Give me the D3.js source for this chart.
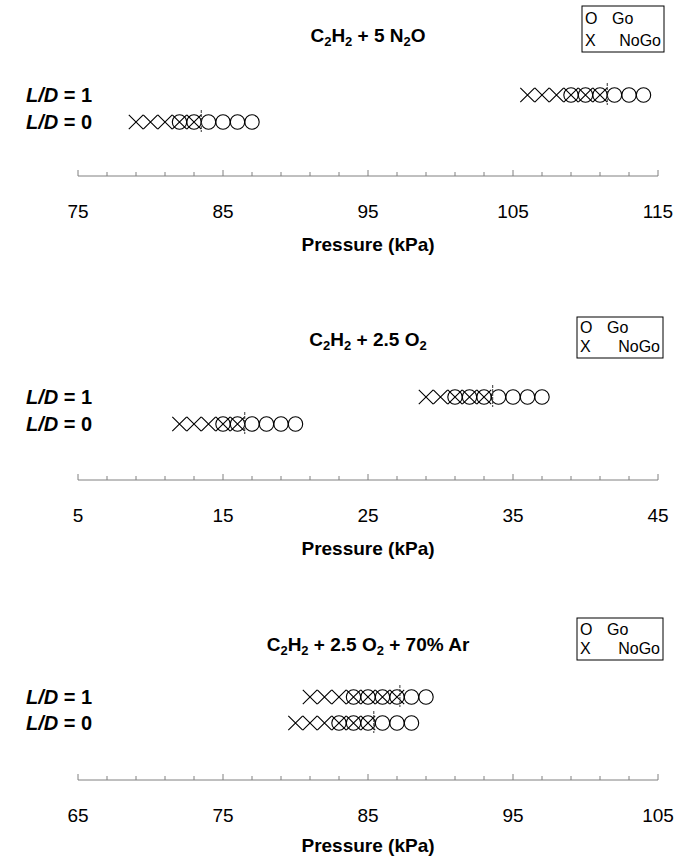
<!DOCTYPE html>
<html>
<head>
<meta charset="utf-8">
<script src="https://cdn.jsdelivr.net/npm/d3@7"></script>
<style>
  body { margin: 0; background: #fff; }
  text { font-family: "Liberation Sans", Arial, sans-serif; }
</style>
</head>
<body>
<div id="chart"></div>
<script>
// panel 1 : C2H2 + 5 N2O
var p1Domain = [75, 115];
var p1Ticks = [75, 85, 95, 105, 115];
var p1NoGo1 = [106, 107, 108, 109, 110, 111];
var p1Go1 = [109, 110, 111, 112, 113, 114];
var p1Thr1 = 111.5;
var p1NoGo0 = [79, 80, 81, 82, 83];
var p1Go0 = [82, 83, 84, 85, 86, 87];
var p1Thr0 = 83.5;

// panel 2 : C2H2 + 2.5 O2
var p2Domain = [5, 45];
var p2Ticks = [5, 15, 25, 35, 45];
var p2NoGo1 = [29, 30, 31, 32, 33];
var p2Go1 = [31, 32, 33, 34, 35, 36, 37];
var p2Thr1 = 33.6;
var p2NoGo0 = [12, 13, 14, 15, 16];
var p2Go0 = [15, 16, 17, 18, 19, 20];
var p2Thr0 = 16.5;

// panel 3 : C2H2 + 2.5 O2 + 70% Ar
var p3Domain = [65, 105];
var p3Ticks = [65, 75, 85, 95, 105];
var p3NoGo1 = [81, 82, 83, 84, 85, 86, 87];
var p3Go1 = [84, 85, 86, 87, 88, 89];
var p3Thr1 = 87.2;
var p3NoGo0 = [80, 81, 82, 83, 84, 85];
var p3Go0 = [83, 84, 85, 86, 87, 88];
var p3Thr0 = 85.4;

var width = 682, height = 858;

var panels = [
    { title: [["C", 0], ["2", 1], ["H", 0], ["2", 1], [" + 5 N", 0], ["2", 1], ["O", 0]],
      domain: p1Domain, ticks: p1Ticks,
      rows: [{ nogo: p1NoGo1, go: p1Go1, thr: p1Thr1 }, { nogo: p1NoGo0, go: p1Go0, thr: p1Thr0 }],
      legend: { x: 582, y: 6, w: 82, h: 46 },
      y: { title: 36, row1: 95, row0: 122, axis: 176, labels: 211, xtitle: 245 } },
    { title: [["C", 0], ["2", 1], ["H", 0], ["2", 1], [" + 2.5 O", 0], ["2", 1]],
      domain: p2Domain, ticks: p2Ticks,
      rows: [{ nogo: p2NoGo1, go: p2Go1, thr: p2Thr1 }, { nogo: p2NoGo0, go: p2Go0, thr: p2Thr0 }],
      legend: { x: 577, y: 317, w: 86, h: 41 },
      y: { title: 340, row1: 397, row0: 424, axis: 480, labels: 515, xtitle: 549 } },
    { title: [["C", 0], ["2", 1], ["H", 0], ["2", 1], [" + 2.5 O", 0], ["2", 1], [" + 70% Ar", 0]],
      domain: p3Domain, ticks: p3Ticks,
      rows: [{ nogo: p3NoGo1, go: p3Go1, thr: p3Thr1 }, { nogo: p3NoGo0, go: p3Go0, thr: p3Thr0 }],
      legend: { x: 577, y: 618, w: 86, h: 42 },
      y: { title: 645, row1: 697, row0: 723, axis: 780, labels: 815, xtitle: 846 } }
];

var svg = d3.select("#chart")
    .append("svg")
    .attr("width", width)
    .attr("height", height);

var r = 7.2;

panels.forEach(function (p) {
    var x = d3.scaleLinear().domain(p.domain).range([78, 658]);
    var g = svg.append("g");

    // title with subscripts
    var t = g.append("text")
        .attr("x", 368)
        .attr("y", p.y.title + 6)
        .attr("text-anchor", "middle")
        .style("font-size", "19px")
        .style("font-weight", "bold");
    var prevSub = 0;
    p.title.forEach(function (part) {
        t.append("tspan")
            .attr("dy", (part[1] ? 4 : 0) - (prevSub ? 4 : 0))
            .style("font-size", part[1] ? "13px" : "19px")
            .text(part[0]);
        prevSub = part[1];
    });

    // legend
    var L = p.legend;
    var lg = g.append("g")
        .attr("transform", "translate(" + L.x + "," + L.y + ")")
        .style("font-size", "16px");
    lg.append("rect")
        .attr("width", L.w).attr("height", L.h)
        .attr("fill", "none").attr("stroke", "#000").attr("stroke-width", 1);
    lg.append("text").attr("x", 3).attr("y", L.h * 0.4).text("O");
    lg.append("text").attr("x", 30).attr("y", L.h * 0.4).text("Go");
    lg.append("text").attr("x", 3).attr("y", L.h * 0.86).text("X");
    lg.append("text").attr("x", L.w - 3).attr("y", L.h * 0.86).attr("text-anchor", "end").text("NoGo");

    // L/D labels
    [[p.y.row1, "1"], [p.y.row0, "0"]].forEach(function (d) {
        var lt = g.append("text")
            .attr("x", 26)
            .attr("y", d[0] + 7)
            .style("font-size", "20px")
            .style("font-weight", "bold");
        lt.append("tspan").style("font-style", "italic").text("L/D");
        lt.append("tspan").text(" = " + d[1]);
    });

    // markers
    var rowY = [p.y.row1, p.y.row0];
    p.rows.forEach(function (row, i) {
        var cy = rowY[i];
        g.selectAll(null)
            .data(row.go)
            .enter()
            .append("circle")
            .attr("cx", d => x(d))
            .attr("cy", cy)
            .attr("r", r)
            .attr("fill", "none")
            .attr("stroke", "#000")
            .attr("stroke-width", 1.1);
        g.selectAll(null)
            .data(row.nogo)
            .enter()
            .append("path")
            .attr("d", d => {
                var cx = x(d);
                return "M" + (cx - r) + "," + (cy - r) + "L" + (cx + r) + "," + (cy + r) +
                    "M" + (cx - r) + "," + (cy + r) + "L" + (cx + r) + "," + (cy - r);
            })
            .attr("stroke", "#000")
            .attr("stroke-width", 1.1);
        g.append("line")
            .attr("x1", x(row.thr)).attr("x2", x(row.thr))
            .attr("y1", cy - 12).attr("y2", cy + 10)
            .attr("stroke", "#333")
            .attr("stroke-width", 1)
            .attr("stroke-dasharray", "3,1");
    });

    // axis
    var minor = d3.range(p.domain[0], p.domain[1] + 0.1, 2);
    g.append("line")
        .attr("x1", x(p.domain[0])).attr("x2", x(p.domain[1]))
        .attr("y1", p.y.axis).attr("y2", p.y.axis)
        .attr("stroke", "#808080");
    g.selectAll(null)
        .data(minor)
        .enter()
        .append("line")
        .attr("x1", d => x(d)).attr("x2", d => x(d))
        .attr("y1", p.y.axis)
        .attr("y2", d => p.ticks.indexOf(d) >= 0 ? p.y.axis - 6 : p.y.axis - 4)
        .attr("stroke", "#808080");
    g.selectAll(null)
        .data(p.ticks)
        .enter()
        .append("text")
        .attr("x", d => x(d))
        .attr("y", p.y.labels + 7)
        .attr("text-anchor", "middle")
        .style("font-size", "19px")
        .text(d => d);
    g.append("text")
        .attr("x", 368)
        .attr("y", p.y.xtitle + 6)
        .attr("text-anchor", "middle")
        .style("font-size", "19px")
        .style("font-weight", "bold")
        .text("Pressure (kPa)");
});
</script>
</body>
</html>
